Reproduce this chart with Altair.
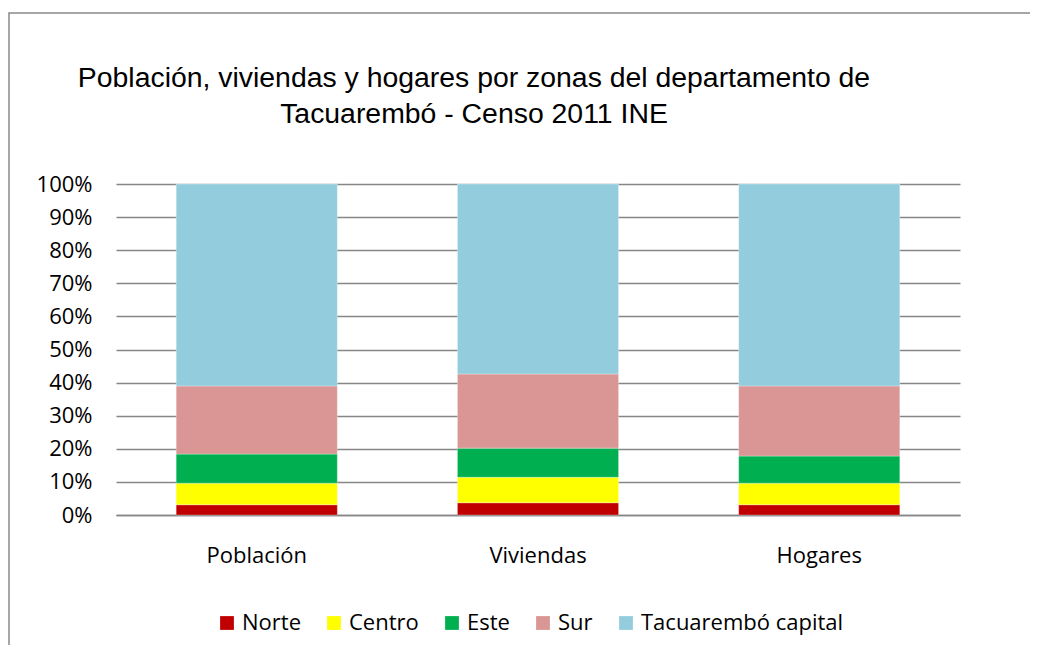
import altair as alt
import pandas as pd

categorias = ["Población", "Viviendas", "Hogares"]
zonas = ["Norte", "Centro", "Este", "Sur", "Tacuarembó capital"]
colores = ["#C00000", "#FFFF00", "#00B050", "#D99694", "#93CDDD"]

norte = [3.1, 3.7, 3.1]
centro = [6.5, 7.7, 6.5]
este = [8.8, 8.8, 8.2]
sur = [20.6, 22.4, 21.2]
capital = [61.0, 57.4, 61.0]

titulo = ["Población, viviendas y hogares por zonas del departamento de",
          "Tacuarembó - Censo 2011 INE"]

series = [norte, centro, este, sur, capital]
rows = []
for zi, (z, vals) in enumerate(zip(zonas, series)):
    for c, v in zip(categorias, vals):
        rows.append({"Categoria": c, "Zona": z, "Valor": v, "orden": zi})
df = pd.DataFrame(rows)

AX_FONT = "Open Sans"
GRID = "#868686"
FS = 22

bars = alt.Chart(df).mark_bar(stroke="#ffffff", strokeWidth=0.5, strokeOpacity=0.6).encode(
    x=alt.X(
        "Categoria:N",
        sort=categorias,
        scale=alt.Scale(paddingInner=0.427, paddingOuter=0.214),
        axis=alt.Axis(
            title=None, labelAngle=0, ticks=False, domain=True,
            domainColor=GRID, domainWidth=1.5, labelFont=AX_FONT,
            labelFontSize=FS, labelPadding=30, labelColor="black",
        ),
    ),
    y=alt.Y(
        "Valor:Q",
        stack="zero",
        scale=alt.Scale(domain=[0, 100], nice=False),
        axis=alt.Axis(
            title=None, values=list(range(0, 101, 10)),
            labelExpr="datum.value + '%'", grid=True, gridColor=GRID,
            gridWidth=1.5, domain=False, ticks=False, labelPadding=24,
            labelFont=AX_FONT, labelFontSize=FS, labelColor="black",
        ),
    ),
    color=alt.Color(
        "Zona:N",
        sort=zonas,
        scale=alt.Scale(domain=zonas, range=colores),
        legend=alt.Legend(
            title=None, orient="none", direction="horizontal",
            legendX=100, legendY=428, symbolType="square", symbolSize=190,
            symbolStrokeWidth=0, labelOffset=4, columnPadding=22, padding=0,
            labelFont=AX_FONT, labelFontSize=FS, labelColor="black",
            labelLimit=0,
        ),
    ),
    order=alt.Order("orden:Q", sort="ascending"),
)

border = alt.Chart(alt.Data(values=[{"a": 1}])).mark_rect(
    filled=False, stroke="#898989", strokeWidth=1.5
).encode(
    x=alt.value(-107), x2=alt.value(1000), y=alt.value(-171), y2=alt.value(600)
)

t1 = alt.Chart(alt.Data(values=[{"a": 1}])).mark_text(
    font="Liberation Sans", fontSize=28.4, color="black", align="center",
    baseline="alphabetic",
).encode(x=alt.value(358), y=alt.value(-97), text=alt.value(titulo[0]))

t2 = alt.Chart(alt.Data(values=[{"a": 1}])).mark_text(
    font="Liberation Sans", fontSize=28.4, color="black", align="center",
    baseline="alphabetic",
).encode(x=alt.value(358), y=alt.value(-61.5), text=alt.value(titulo[1]))

chart = alt.layer(border, t1, t2, bars).properties(
    width=844,
    height=331,
    autosize=alt.AutoSizeParams(type="none"),
    padding={"left": 108, "top": 176, "right": 70, "bottom": 130},
).configure_view(stroke=None)

chart.save("out.html", embed_options={"renderer": "svg", "actions": False})
